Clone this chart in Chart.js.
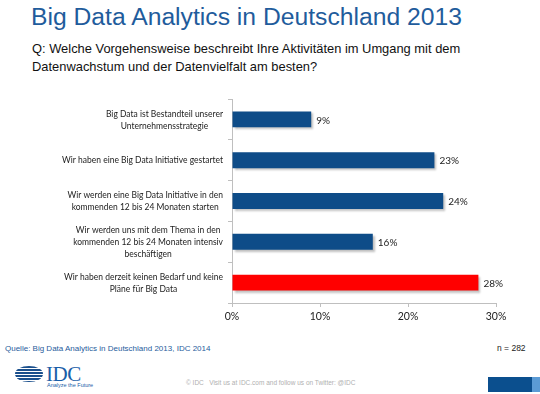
<!DOCTYPE html>
<html>
<head>
<meta charset="utf-8">
<script src="https://cdn.jsdelivr.net/npm/chart.js@4"></script>
<style>
html,body{margin:0;padding:0;background:#fff;}
body{width:540px;height:394px;position:relative;overflow:hidden;font-family:"Liberation Sans",Arial,sans-serif;}
#title{position:absolute;left:31px;top:3px;font-size:24.7px;color:#1f5c9c;white-space:nowrap;}
#q{position:absolute;left:32px;top:40px;font-size:12.9px;line-height:18px;color:#111;white-space:nowrap;}
#wrap{position:absolute;left:0;top:90px;width:540px;height:240px;}
#src{position:absolute;left:5px;top:344px;font-size:8px;color:#1f5c9c;white-space:nowrap;}
#n{position:absolute;left:497px;top:343px;font-size:8.5px;color:#222;white-space:nowrap;}
#copy{position:absolute;left:186px;top:379px;font-size:6.5px;color:#b0b0b0;white-space:nowrap;}
#idc{position:absolute;left:46px;top:362px;font-family:"Liberation Serif",serif;font-size:21px;color:#1a5ea8;letter-spacing:-0.5px;}
#tag{position:absolute;left:47px;top:382px;font-size:5.5px;color:#1a5ea8;white-space:nowrap;}
#globe{position:absolute;left:15px;top:366px;width:28px;height:16px;border-radius:50%;
 background:repeating-linear-gradient(180deg,#1a4f8c 0 2px,#ffffff 2px 3px);}
#barA{position:absolute;left:488px;top:377px;width:44px;height:15px;background:#0b4f8e;}
#barB{position:absolute;left:532px;top:377px;width:8px;height:15px;background:#5b9bd5;}
</style>
</head>
<body>
<div id="title">Big Data Analytics in Deutschland 2013</div>
<div id="q">Q: Welche Vorgehensweise beschreibt Ihre Aktivitäten im Umgang mit dem<br>Datenwachstum und der Datenvielfalt am besten?</div>
<div id="wrap"><canvas id="c" width="540" height="240"></canvas></div>
<div id="src">Quelle: Big Data Analytics in Deutschland 2013, IDC 2014</div>
<div id="n">n = 282</div>
<div id="globe"></div>
<div id="idc">IDC</div>
<div id="tag">Analyze the Future</div>
<div id="copy">© IDC &nbsp; Visit us at IDC.com and follow us on Twitter: @IDC</div>
<div id="barA"></div><div id="barB"></div>
<script>
const categories = [
  ["Big Data ist Bestandteil unserer", "Unternehmensstrategie"],
  ["Wir haben eine Big Data Initiative gestartet"],
  ["Wir werden eine Big Data Initiative in den", "kommenden 12 bis 24 Monaten starten"],
  ["Wir werden uns mit dem Thema in den", "kommenden 12 bis 24 Monaten intensiv", "beschäftigen"],
  ["Wir haben derzeit keinen Bedarf und keine", "Pläne für Big Data"]
];
const values = [9, 23, 24, 16, 28];
const barColors = ["#0e4c88", "#0e4c88", "#0e4c88", "#0e4c88", "#ff0000"];
const xTicks = [0, 10, 20, 30];

const labelFont = '10px Lato, sans-serif';
const targetWidth = 161; // width of the widest single line in the reference

const customText = {
  id: 'customText',
  afterDraw(chart) {
    const ctx = chart.ctx;
    const ys = chart.scales.y, xs = chart.scales.x;
    ctx.save();
    ctx.font = labelFont;
    ctx.fillStyle = '#222';
    ctx.textBaseline = 'middle';
    ctx.textAlign = 'center';
    const sx = Math.min(1, targetWidth / ctx.measureText(categories[1][0]).width);
    const lh = 11.8;
    categories.forEach((lines, i) => {
      const yc = ys.getPixelForValue(i);
      let maxW = 0;
      lines.forEach(l => { maxW = Math.max(maxW, ctx.measureText(l).width * sx); });
      const cx = xs.left - 9 - maxW / 2;
      const y0 = yc - (lines.length - 1) * lh / 2;
      lines.forEach((l, k) => {
        ctx.save();
        ctx.translate(cx, y0 + k * lh);
        ctx.scale(sx, 1);
        ctx.fillText(l, 0, 0);
        ctx.restore();
      });
    });
    ctx.textAlign = 'left';
    ctx.font = '10px Lato, sans-serif';
    values.forEach((v, i) => {
      ctx.fillText(v + '%', xs.getPixelForValue(v) + 5, ys.getPixelForValue(i) + 1);
    });
    ctx.restore();
  }
};

const shadow = {
  id: 'shadow',
  beforeDatasetsDraw(chart) {
    const ctx = chart.ctx;
    ctx.save();
    ctx.shadowColor = 'rgba(0,0,0,0.25)';
    ctx.shadowOffsetX = 2;
    ctx.shadowOffsetY = 2;
    ctx.shadowBlur = 2;
  },
  afterDatasetsDraw(chart) { chart.ctx.restore(); }
};

new Chart(document.getElementById('c'), {
  type: 'bar',
  data: {
    labels: categories.map(l => l.join(' ')),
    datasets: [{ data: values, backgroundColor: barColors, borderWidth: 0,
      categoryPercentage: 1, barPercentage: 0.39 }]
  },
  options: {
    indexAxis: 'y',
    responsive: false,
    animation: false,
    events: [],
    layout: { padding: { left: 0, right: 44, top: 9, bottom: 0 } },
    plugins: { legend: { display: false }, tooltip: { enabled: false } },
    scales: {
      x: {
        min: 0, max: 30,
        afterBuildTicks(s) { s.ticks = xTicks.map(v => ({ value: v })); },
        grid: { drawOnChartArea: false, drawTicks: true, tickLength: 4, color: '#bfbfbf' },
        border: { color: '#bfbfbf', width: 1 },
        ticks: { color: '#222', font: { family: 'Lato', size: 10.5 }, padding: 3,
          callback: v => v + '%' },
        afterFit(s) { s.height = 27; }
      },
      y: {
        grid: { drawOnChartArea: false, drawTicks: true, tickLength: 4, offset: true, color: '#bfbfbf' },
        border: { color: '#bfbfbf', width: 1 },
        ticks: { display: false },
        afterFit(s) { s.width = 232; }
      }
    }
  },
  plugins: [shadow, customText]
});
</script>
</body>
</html>
